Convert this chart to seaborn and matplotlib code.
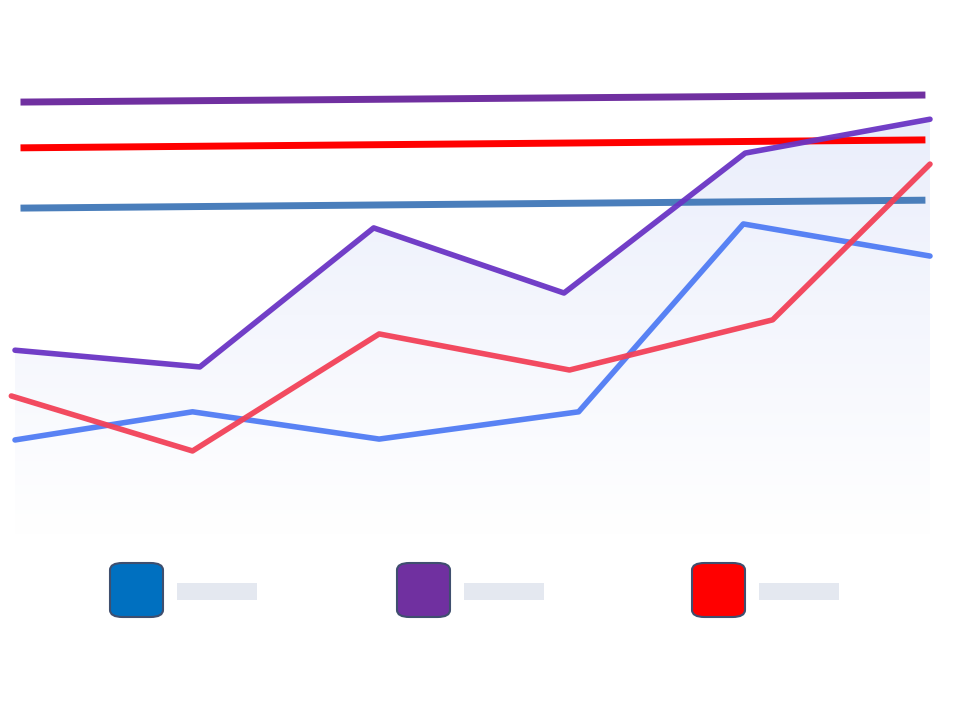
import matplotlib
matplotlib.use("Agg")
import matplotlib.pyplot as plt
from matplotlib.patches import FancyBboxPatch, Rectangle
from matplotlib.colors import LinearSegmentedColormap
import numpy as np
import pandas as pd
import seaborn as sns

# Series values (arbitrary units)
purple_x = [0, 1.01, 1.96, 3.0, 3.99, 5.0]
purple_y = [42.0, 38.2, 69.8, 55.0, 86.8, 94.5]
red_x = [-0.02, 0.97, 1.99, 3.03, 4.14, 5.0]
red_y = [31.6, 19.1, 45.7, 37.5, 48.9, 84.3]
blue_x = [0, 0.97, 1.99, 3.08, 3.98, 5.0]
blue_y = [21.6, 28.0, 21.8, 28.0, 70.7, 63.4]

# Near-flat reference lines (start, end)
ref_x = [0.03, 4.975]
ref_purple = [98.4, 100.0]
ref_red = [88.0, 89.8]
ref_steel = [74.3, 76.1]

legend_colors = ["#0070C0", "#7030A0", "#FF0000"]

sns.set_theme(style="white")
fig = plt.figure(figsize=(9.6, 7.2), dpi=100)
ax = fig.add_axes([0, 0, 1, 1])
ax.set_xlim(-0.082, 5.164)
ax.set_ylim(-42.05, 121.6)
ax.axis("off")

# gradient area under the purple series
cmap = LinearSegmentedColormap.from_list("fade", ["#FFFFFF", "#E9EDFB"])
grad = np.linspace(0, 1, 256).reshape(-1, 1)
img = ax.imshow(grad, extent=[purple_x[0], purple_x[-1], 0, 100], origin="lower",
                aspect="auto", cmap=cmap, zorder=1)
poly = ax.fill_between(purple_x, 0, purple_y, color="none", lw=0)
img.set_clip_path(poly.get_paths()[0], transform=ax.transData)

for ys, col in [(ref_purple, "#7030A0"), (ref_red, "#FF0000"), (ref_steel, "#4A7EBB")]:
    sns.lineplot(x=ref_x, y=ys, color=col, lw=5, ax=ax, zorder=3,
                 solid_capstyle="butt")

df = pd.concat([
    pd.DataFrame({"x": blue_x, "y": blue_y, "s": "blue"}),
    pd.DataFrame({"x": red_x, "y": red_y, "s": "red"}),
    pd.DataFrame({"x": purple_x, "y": purple_y, "s": "purple"}),
])
sns.lineplot(data=df, x="x", y="y", hue="s", sort=False, estimator=None, lw=4,
             palette={"blue": "#507CF4", "red": "#F24158", "purple": "#6A34C4"},
             legend=False, ax=ax, zorder=4, alpha=0.95)

# legend: rounded swatches with grey placeholder labels
box_left = [110, 397, 692]
for left, col in zip(box_left, legend_colors):
    fig.patches.append(FancyBboxPatch(
        (left / 960, 1 - 617 / 720), 53 / 960, 54 / 720,
        boxstyle="round,pad=0,rounding_size=0.013", transform=fig.transFigure,
        fc=col, ec="#3F4F6F", lw=1.5, mutation_aspect=0.75))
    fig.patches.append(Rectangle(((left + 67) / 960, 1 - 600 / 720), 80 / 960, 17 / 720,
                                 transform=fig.transFigure, fc="#E4E8F0", ec="none"))

fig.savefig("out.png", dpi=100)
